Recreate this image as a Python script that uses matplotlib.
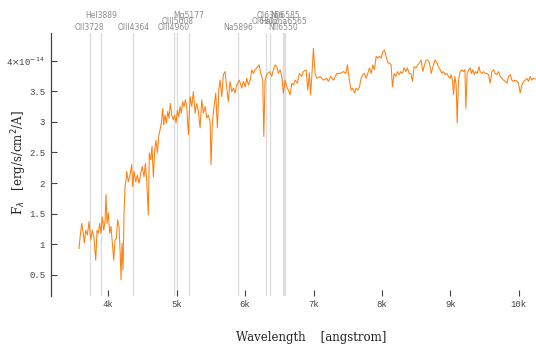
import matplotlib
matplotlib.use("Agg")
import matplotlib.pyplot as plt
from matplotlib.transforms import blended_transform_factory
from matplotlib.ticker import FixedLocator, FixedFormatter

# Observed spectrum: wavelength [angstrom] and flux [1e-14 erg/s/cm^2/A]
wavelength = [
    3572, 3586, 3611, 3634, 3649, 3670, 3693, 3718, 3743, 3766, 3791, 3816,
    3835, 3854, 3874, 3893, 3912, 3933, 3952, 3966, 3981, 4000, 4020, 4039,
    4058, 4079, 4098, 4117, 4137, 4156, 4175, 4186, 4200, 4215, 4230, 4244,
    4259, 4269, 4292, 4317, 4342, 4357, 4376, 4401, 4424, 4449, 4474, 4497,
    4522, 4541, 4561, 4585, 4599, 4620, 4639, 4658, 4678, 4697, 4716, 4737,
    4756, 4775, 4795, 4810, 4829, 4848, 4868, 4887, 4906, 4927, 4950, 4971,
    4990, 5009, 5029, 5048, 5067, 5088, 5107, 5126, 5146, 5170, 5195, 5219,
    5243, 5268, 5292, 5316, 5341, 5365, 5389, 5414, 5439, 5462, 5487, 5501,
    5520, 5545, 5570, 5594, 5614, 5633, 5658, 5681, 5706, 5731, 5754, 5779,
    5804, 5828, 5852, 5877, 5915, 5950, 5974, 5999, 6023, 6047, 6072, 6097,
    6120, 6145, 6170, 6203, 6228, 6257, 6272, 6291, 6316, 6355, 6389, 6412,
    6437, 6462, 6485, 6510, 6535, 6558, 6583, 6608, 6632, 6656, 6681, 6705,
    6730, 6763, 6792, 6827, 6851, 6890, 6915, 6939, 6955, 6974, 6997, 7022,
    7047, 7095, 7143, 7193, 7216, 7251, 7290, 7339, 7387, 7436, 7471, 7494,
    7523, 7548, 7573, 7597, 7621, 7646, 7670, 7694, 7719, 7743, 7767, 7792,
    7816, 7841, 7865, 7889, 7914, 7938, 7962, 7987, 8012, 8035, 8060, 8085,
    8108, 8133, 8152, 8177, 8202, 8225, 8250, 8275, 8298, 8323, 8348, 8371,
    8396, 8421, 8444, 8469, 8498, 8523, 8547, 8572, 8597, 8620, 8645, 8670,
    8693, 8718, 8752, 8776, 8801, 8825, 8850, 8874, 8897, 8922, 8947, 8971,
    8996, 9010, 9029, 9044, 9064, 9083, 9098, 9117, 9142, 9167, 9190, 9211,
    9225, 9244, 9269, 9288, 9307, 9328, 9347, 9366, 9391, 9416, 9434, 9459,
    9483, 9507, 9532, 9556, 9580, 9605, 9629, 9653, 9678, 9702, 9727, 9751,
    9775, 9800, 9825, 9848, 9873, 9897, 9921, 9946, 9971, 9994, 10019, 10044,
    10067, 10092, 10117, 10140, 10165, 10190, 10213, 10240,
]
flux = [
    0.93, 1.10, 1.34, 1.18, 1.02, 1.23, 1.15, 1.37, 1.07, 1.23, 1.10, 0.74,
    1.23, 1.18, 1.34, 1.18, 1.45, 1.23, 1.37, 1.81, 1.34, 1.51, 1.18, 1.29,
    1.02, 0.74, 1.07, 1.10, 1.40, 1.29, 0.82, 0.42, 1.02, 0.58, 1.51, 1.94,
    2.05, 2.19, 2.02, 2.13, 2.30, 1.94, 2.19, 2.02, 2.13, 2.00, 2.16, 2.27,
    2.10, 2.32, 2.05, 1.48, 2.49, 2.38, 2.60, 2.10, 2.54, 2.70, 2.49, 2.76,
    2.87, 2.98, 3.22, 2.95, 3.11, 2.98, 3.17, 3.06, 3.30, 3.11, 3.03, 3.11,
    2.98, 3.19, 3.08, 3.25, 3.14, 3.33, 3.25, 3.36, 3.25, 2.79, 3.41, 3.25,
    3.49, 3.14, 3.30, 3.17, 2.90, 3.36, 3.14, 3.25, 3.06, 3.11, 3.00, 2.30,
    2.98, 3.25, 3.47, 2.90, 3.52, 3.68, 3.41, 3.77, 3.82, 3.55, 3.33, 3.66,
    3.49, 3.55, 3.47, 3.60, 3.68, 3.55, 3.66, 3.57, 3.71, 3.60, 3.68, 3.85,
    3.79, 3.85, 3.88, 3.93, 3.79, 3.68, 2.76, 3.68, 3.77, 3.82, 3.74, 3.85,
    3.93, 3.90, 3.79, 3.85, 3.74, 3.47, 3.68, 3.57, 3.52, 3.44, 3.63, 3.60,
    3.68, 3.63, 3.79, 3.74, 3.82, 3.85, 3.52, 3.80, 3.44, 3.74, 4.20, 3.79,
    3.71, 3.74, 3.68, 3.71, 3.66, 3.74, 3.68, 3.79, 3.79, 3.82, 3.79, 3.93,
    3.68, 3.52, 3.55, 3.47, 3.55, 3.52, 3.57, 3.71, 3.77, 3.79, 3.71, 3.79,
    3.88, 3.79, 3.93, 3.85, 4.07, 4.04, 4.07, 4.04, 4.15, 4.17, 4.07, 3.96,
    3.96, 3.93, 3.57, 3.79, 3.74, 3.82, 3.77, 3.82, 3.79, 3.88, 3.82, 3.88,
    3.79, 3.79, 3.66, 3.90, 3.88, 3.93, 3.96, 4.01, 3.82, 3.93, 4.01, 4.01,
    3.96, 3.79, 3.93, 4.01, 3.96, 3.90, 3.85, 3.79, 3.82, 3.77, 3.79, 3.74,
    3.71, 3.77, 3.68, 3.44, 3.74, 3.60, 2.98, 3.68, 3.82, 3.85, 3.82, 3.85,
    3.22, 3.79, 3.85, 3.88, 3.79, 3.85, 3.77, 3.82, 3.79, 3.90, 3.82, 3.79,
    3.82, 3.79, 3.79, 3.77, 3.63, 3.82, 3.85, 3.79, 3.77, 3.82, 3.74, 3.71,
    3.68, 3.66, 3.63, 3.74, 3.77, 3.68, 3.66, 3.68, 3.66, 3.63, 3.47, 3.60,
    3.66, 3.68, 3.71, 3.66, 3.74, 3.68, 3.71, 3.70,
]

# Emission / absorption line markers
line_names = ["OII3728", "HeI3889", "OIII4364", "OIII4960", "OIII5008",
              "Mg5177", "Na5896", "OI6302", "OI6366", "NII6550",
              "Halpha6565", "NII6585"]
line_waves = [3728, 3889, 4364, 4960, 5008, 5177, 5896, 6302, 6366, 6550,
              6565, 6585]
line_rows = [0, 2, 0, 0, 1, 2, 0, 1, 2, 0, 1, 2]

y_ticks = [0.5, 1, 1.5, 2, 2.5, 3, 3.5, 4]
y_tick_labels = ["0.5", "1", "1.5", "2", "2.5", "3", "3.5",
                 r"4$\times$10$^{-14}$"]
x_ticks = [4000, 5000, 6000, 7000, 8000, 9000, 10000]
x_tick_labels = ["4k", "5k", "6k", "7k", "8k", "9k", "10k"]

W, H = 536, 345
fig = plt.figure(figsize=(W / 100, H / 100), dpi=100)
ax = fig.add_axes([50.7 / W, 1 - 296 / H, (536 - 50.7) / W, (296 - 33) / H])

for w in line_waves:
    ax.axvline(w, color="#dcdcdc", lw=0.9, zorder=1)

ax.plot(wavelength, flux, color="#ff7f0e", lw=0.75, zorder=3)

ax.set_xlim(3158, 10250)
ax.set_ylim(0.155, 4.45)

for side in ("top", "right", "bottom"):
    ax.spines[side].set_visible(False)
ax.spines["left"].set_color("#444444")
ax.spines["left"].set_linewidth(0.9)

ax.yaxis.set_major_locator(FixedLocator(y_ticks))
ax.yaxis.set_major_formatter(FixedFormatter(y_tick_labels))
ax.xaxis.set_major_locator(FixedLocator(x_ticks))
ax.xaxis.set_major_formatter(FixedFormatter(x_tick_labels))
ax.tick_params(axis="both", direction="in", length=4, width=0.8,
               color="#444444", labelcolor="#444444", labelsize=6.5)
ax.tick_params(axis="y", pad=4)
ax.tick_params(axis="x", pad=3)
for lab in ax.get_xticklabels() + ax.get_yticklabels():
    lab.set_family("Liberation Mono")

# Axis titles placed in figure coordinates
fig.text(311 / W, 1 - 337 / H, "Wavelength    [angstrom]",
         family="DejaVu Serif", fontsize=8.5, color="#222222",
         ha="center", va="center")
fig.text(19 / W, 1 - 163 / H, r"F$_\lambda$   [erg/s/cm$^2$/A]",
         family="DejaVu Serif", fontsize=8.5, color="#222222",
         ha="center", va="center", rotation=90)

trans = blended_transform_factory(ax.transData, fig.transFigure)
row_y = [1 - 27 / H, 1 - 21.7 / H, 1 - 16 / H]
for name, w, r in zip(line_names, line_waves, line_rows):
    ax.text(w, row_y[r], name, transform=trans, ha="center", va="center",
            fontsize=5.5, color="#8a8a8a", family="DejaVu Sans")

fig.savefig("out.png", dpi=100)
